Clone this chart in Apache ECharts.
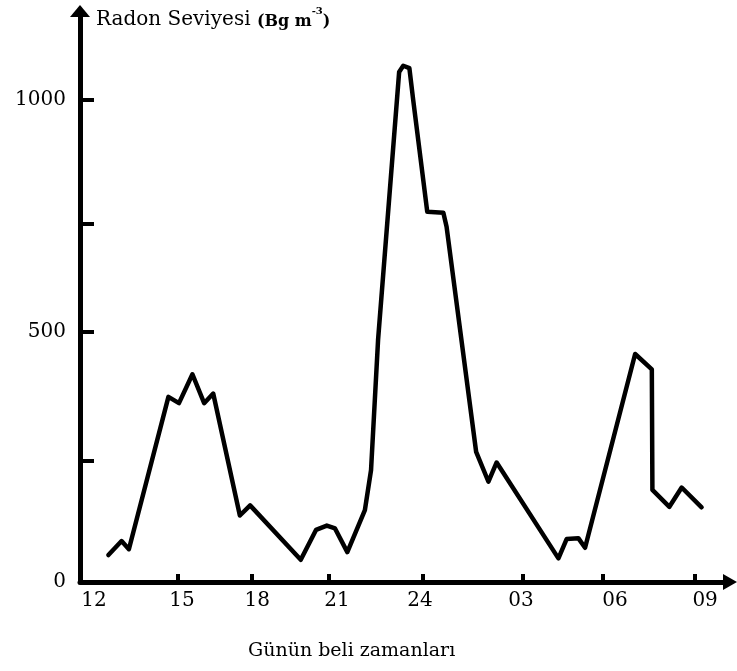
<!DOCTYPE html>
<html>
<head>
<meta charset="utf-8">
<script src="https://cdn.jsdelivr.net/npm/echarts@6/dist/echarts.min.js"></script>
<style>html,body{margin:0;padding:0;background:#fff}#c{width:737px;height:671px}</style>
</head>
<body>
<div id="c"></div>
<script>
// Time along the drawn axis (hours after 12:00) and radon level (Bq m^-3)
const hours = [0.97, 1.42, 1.67, 3.02, 3.38, 3.84, 4.24, 4.55, 5.46, 5.81, 7.54, 8.06, 8.43, 8.71, 9.13, 9.73, 9.94, 10.18, 10.90, 11.04, 11.25, 11.38, 11.86, 12.41, 12.52, 13.53, 13.95, 14.23, 16.34, 16.62, 17.02, 17.25, 18.96, 19.53, 19.55, 20.13, 20.55, 21.23];
const radon = [56, 85, 68, 384, 371, 431, 371, 391, 138, 159, 46, 108, 117, 111, 62, 149, 232, 502, 1058, 1071, 1066, 1000, 768, 766, 737, 270, 208, 248, 49, 89, 91, 71, 473, 441, 191, 156, 196, 155];

// Tick marks and labels as placed on the hand-drawn axes
const xTickPos = [3.35, 5.87, 8.50, 11.71, 15.13, 17.86, 21.0];
const xLabelPos = [0.48, 3.48, 6.05, 8.78, 11.61, 15.06, 18.27, 21.35];
const xLabelText = ['12', '15', '18', '21', '24', '03', '06', '09'];
const yTickPos = [251, 519, 743, 1000];
const yLabelPos = [0, 519, 1000];
const yLabelText = ['0', '500', '1000'];

function lookup(v, pos, txt) {
  let best = 0, d = Infinity;
  pos.forEach((p, i) => { const e = Math.abs(p - v); if (e < d) { d = e; best = i; } });
  return txt[best];
}

const chart = echarts.init(document.getElementById('c'), null, {renderer: 'canvas'});
chart.setOption({
  animation: false,
  backgroundColor: '#fff',
  title: {
    left: 96, top: 6, padding: 0,
    text: '{a|Radon Seviyesi }{b|(Bg m}{c|-3}{b|)}',
    textStyle: {
      fontWeight: 'normal',
      rich: {
        a: {fontFamily: 'DejaVu Serif', fontWeight: 'normal', fontSize: 20, color: '#000', verticalAlign: 'bottom', lineHeight: 24},
        b: {fontFamily: 'DejaVu Serif', fontWeight: 'bold', fontSize: 16, color: '#000', verticalAlign: 'bottom', lineHeight: 24},
        c: {fontFamily: 'DejaVu Serif', fontWeight: 'bold', fontSize: 10, color: '#000', verticalAlign: 'top', lineHeight: 24, padding: [0, 0, 14, 0]}
      }
    }
  },
  graphic: [{
    type: 'text', left: 248, top: 642,
    style: {text: 'Günün beli zamanları', font: '19px "DejaVu Serif"', fill: '#000'}
  }],
  grid: {left: 80, top: 11, right: 7, bottom: 89, containLabel: false},
  xAxis: {
    type: 'value', min: 0, max: 22.2,
    splitLine: {show: false},
    axisLine: {show: true, symbol: ['none', 'triangle'], symbolSize: [16, 14], lineStyle: {color: '#000', width: 5}},
    axisTick: {show: true, inside: true, length: 8, customValues: xTickPos, lineStyle: {color: '#000', width: 4}},
    axisLabel: {
      customValues: xLabelPos, margin: 9, color: '#000',
      fontFamily: 'DejaVu Serif', fontSize: 20,
      formatter: v => lookup(v, xLabelPos, xLabelText)
    }
  },
  yAxis: {
    type: 'value', min: 0, max: 1184.6,
    splitLine: {show: false},
    axisLine: {show: true, symbol: ['none', 'triangle'], symbolSize: [20, 12], lineStyle: {color: '#000', width: 5}},
    axisTick: {show: true, inside: true, length: 14, customValues: yTickPos, lineStyle: {color: '#000', width: 4}},
    axisLabel: {
      customValues: yLabelPos, margin: 14, color: '#000',
      fontFamily: 'DejaVu Serif', fontSize: 20,
      formatter: v => lookup(v, yLabelPos, yLabelText)
    }
  },
  series: [{
    type: 'line',
    data: hours.map((h, i) => [h, radon[i]]),
    symbol: 'none',
    lineStyle: {color: '#000', width: 4.5, join: 'round', cap: 'round'}
  }]
});
</script>
</body>
</html>
